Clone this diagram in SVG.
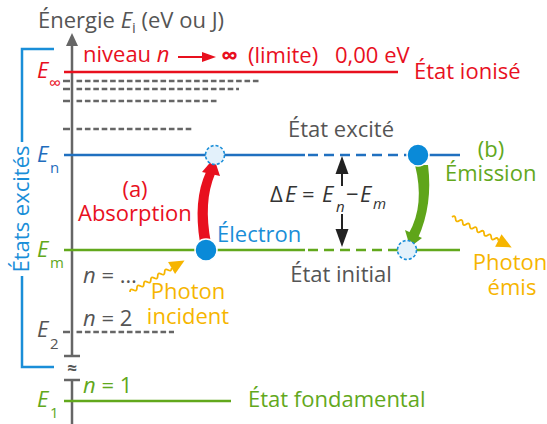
<svg xmlns="http://www.w3.org/2000/svg" width="547" height="424" viewBox="0 0 547 424">
<defs>
<style>
text{font-family:"Open Sans","Noto Sans",sans-serif;font-size:22px}
.gr{fill:#555}
.rd{fill:#e8101e}
.bl{fill:#1f6dbd}
.cy{fill:#1a8ed8}
.gn{fill:#62a81c}
.ye{fill:#f6b500}
.dk{fill:#333}
.it{font-style:italic}
.sub{font-size:15px}
.axis{stroke:#666;stroke-width:2.5;fill:none}
.dash{stroke:#666;stroke-width:2.6;fill:none;stroke-dasharray:5.6 2.8}
.lvl{stroke-width:2.5;fill:none}
.wave{stroke:#f6b500;stroke-width:1.8;fill:none}
</style>
</defs>
<rect width="547" height="424" fill="#fff"/>

<!-- axis -->
<g id="axis">
<line class="axis" x1="72" y1="44" x2="72" y2="356"/>
<line class="axis" x1="72" y1="380" x2="72" y2="424"/>
<polygon points="72,33 66,46 78,46" fill="#666"/>
<line class="axis" x1="64" y1="356" x2="80" y2="356"/>
<line class="axis" x1="64" y1="380" x2="80" y2="380"/>
<text x="72" y="374" text-anchor="middle" class="gr" style="font-size:17px;font-weight:bold">≈</text>
<text x="38" y="28" class="gr">Énergie <tspan class="it">E</tspan><tspan class="sub" dy="5">i</tspan><tspan dy="-5"> (eV ou J)</tspan></text>
</g>

<!-- bracket -->
<g id="bracket">
<path d="M54,49 H22 V142" stroke="#1a8ed8" stroke-width="2.5" fill="none"/>
<path d="M22,276 V367 H54" stroke="#1a8ed8" stroke-width="2.5" fill="none"/>
<text transform="translate(29,209) rotate(-90)" text-anchor="middle" class="cy">États excités</text>
</g>

<!-- ionised level -->
<g id="level-inf">
<line class="lvl" x1="64" y1="72" x2="398" y2="72" stroke="#e8101e"/>
<text x="37" y="78" class="rd it">E</text>
<text x="49" y="89" class="rd" style="font-size:17px">∞</text>
<text x="83" y="62" class="rd">niveau <tspan class="it">n</tspan></text>
<line x1="178" y1="57" x2="204" y2="57" stroke="#e8101e" stroke-width="2"/>
<polygon points="216,57 202,52 202,62" fill="#e8101e"/>
<text x="221" y="64" class="rd" style="font-size:24px;font-weight:bold">∞</text>
<text x="248" y="63" class="rd">(limite)</text>
<text x="335" y="63" class="rd">0,00 eV</text>
<text x="414" y="79" class="rd">État ionisé</text>
</g>

<!-- intermediate dashed levels -->
<g id="levels-dashed">
<line class="axis" x1="63" y1="81" x2="70" y2="81"/>
<line class="dash" x1="76.5" y1="81" x2="260" y2="81"/>
<line class="axis" x1="63" y1="89" x2="70" y2="89"/>
<line class="dash" x1="76.5" y1="89" x2="239" y2="89"/>
<line class="axis" x1="63" y1="101" x2="70" y2="101"/>
<line class="dash" x1="76.5" y1="101" x2="219" y2="101"/>
<line class="axis" x1="63" y1="129" x2="70" y2="129"/>
<line class="dash" x1="76.5" y1="129" x2="194" y2="129"/>
</g>

<!-- E_n -->
<g id="level-n">
<line class="lvl" x1="64" y1="155" x2="305" y2="155" stroke="#2070c0"/>
<line class="lvl" x1="305" y1="155" x2="407" y2="155" stroke="#2070c0" stroke-dasharray="10 6" stroke-dashoffset="-3"/>
<line class="lvl" x1="407" y1="155" x2="460" y2="155" stroke="#2070c0"/>
<text x="37" y="162" class="bl it">E</text>
<text x="50" y="173" class="bl sub">n</text>
<text x="341" y="137" text-anchor="middle" class="gr">État excité</text>
</g>

<!-- E_m -->
<g id="level-m">
<line class="lvl" x1="64" y1="250" x2="305" y2="250" stroke="#62a81c"/>
<line class="lvl" x1="305" y1="250" x2="400" y2="250" stroke="#62a81c" stroke-dasharray="10 6" stroke-dashoffset="-3"/>
<line class="lvl" x1="400" y1="250" x2="460" y2="250" stroke="#62a81c"/>
<text x="37" y="257" class="gn it">E</text>
<text x="50" y="268" class="gn sub">m</text>
<text x="341" y="282" text-anchor="middle" class="gr">État initial</text>
</g>

<!-- E_2 -->
<g id="level-2">
<line class="axis" x1="63" y1="332" x2="70" y2="332"/>
<line class="dash" x1="76.5" y1="332" x2="174" y2="332"/>
<text x="37" y="337" class="gr it">E</text>
<text x="50" y="349" class="gr sub">2</text>
<text x="83" y="326" class="gr"><tspan class="it">n</tspan> = 2</text>
<text x="83" y="283" class="gr"><tspan class="it">n</tspan> = …</text>
</g>

<!-- E_1 -->
<g id="level-1">
<line class="lvl" x1="64" y1="401" x2="231" y2="401" stroke="#62a81c"/>
<text x="37" y="407" class="gn it">E</text>
<text x="50" y="418" class="gn sub">1</text>
<text x="83" y="393" class="gn"><tspan class="it">n</tspan> = 1</text>
<text x="248" y="407" class="gn">État fondamental</text>
</g>

<!-- connectors: transitions -->
<g id="connectors">
<path d="M200,243 Q193,200 206,172 L215,174 Q203,202 211,243 Z" fill="#e8101e"/>
<polygon points="214,158 202,172 220,176" fill="#e8101e"/>
<path d="M415,165 Q425,205 409,233 L418,238 Q433,205 428,165 Z" fill="#5fa51a"/>
<polygon points="410,247 405,230 422,238" fill="#5fa51a"/>
<line x1="342" y1="186" x2="342" y2="170" stroke="#222" stroke-width="2"/>
<polygon points="342,156 335.5,174 348.5,174" fill="#222"/>
<line x1="342" y1="214" x2="342" y2="232" stroke="#222" stroke-width="2"/>
<polygon points="342,247 335.5,229 348.5,229" fill="#222"/>
<g transform="translate(130,292) rotate(-30)">
<path class="wave" d="M0,0 q2,-3.5 4,0 t4,0 t4,0 t4,0 t4,0 t4,0 t4,0 t4,0 t4,0 t4,0 t4,0 t4,0"/>
<polygon points="63,0 48,-7 48,7" fill="#f6b500"/>
</g>
<g transform="translate(452,217) rotate(27)">
<path class="wave" d="M0,0 q2,-3.5 4,0 t4,0 t4,0 t4,0 t4,0 t4,0 t4,0 t4,0 t4,0 t4,0 t4,0 t4,0 t4,0"/>
<polygon points="67,0 52,-7 52,7" fill="#f6b500"/>
</g>
</g>

<!-- electrons -->
<g id="electron-a">
<circle cx="215" cy="155" r="9.5" fill="#e3f1fb" stroke="#1a8ed8" stroke-width="1.6" stroke-dasharray="3 2"/>
<circle cx="206" cy="250" r="11" fill="#0a8ad8" stroke="#fff" stroke-width="1.5"/>
</g>
<g id="electron-b">
<circle cx="418" cy="155" r="11" fill="#0a8ad8" stroke="#fff" stroke-width="1.5"/>
<circle cx="407" cy="250" r="9.5" fill="#e3f1fb" stroke="#1a8ed8" stroke-width="1.6" stroke-dasharray="3 2"/>
</g>

<!-- labels -->
<g id="labels">
<text x="135" y="197" text-anchor="middle" class="rd">(a)</text>
<text x="78" y="221" class="rd">Absorption</text>
<text x="217" y="242" class="cy">Électron</text>
<text x="491" y="157" text-anchor="middle" class="gn">(b)</text>
<text x="445" y="181" class="gn">Émission</text>
<text x="188" y="299" text-anchor="middle" class="ye">Photon</text>
<text x="188" y="324" text-anchor="middle" class="ye">incident</text>
<text x="510" y="270" text-anchor="middle" class="ye">Photon</text>
<text x="512" y="295" text-anchor="middle" class="ye">émis</text>
<text y="202" class="dk"><tspan x="270">Δ</tspan><tspan x="285" class="it">E</tspan><tspan x="302">=</tspan><tspan x="322" class="it">E</tspan><tspan x="336" dy="10" class="it sub">n</tspan><tspan x="346" dy="-10">−</tspan><tspan x="360" class="it">E</tspan><tspan x="373" dy="7" class="it sub">m</tspan></text>
</g>
</svg>
